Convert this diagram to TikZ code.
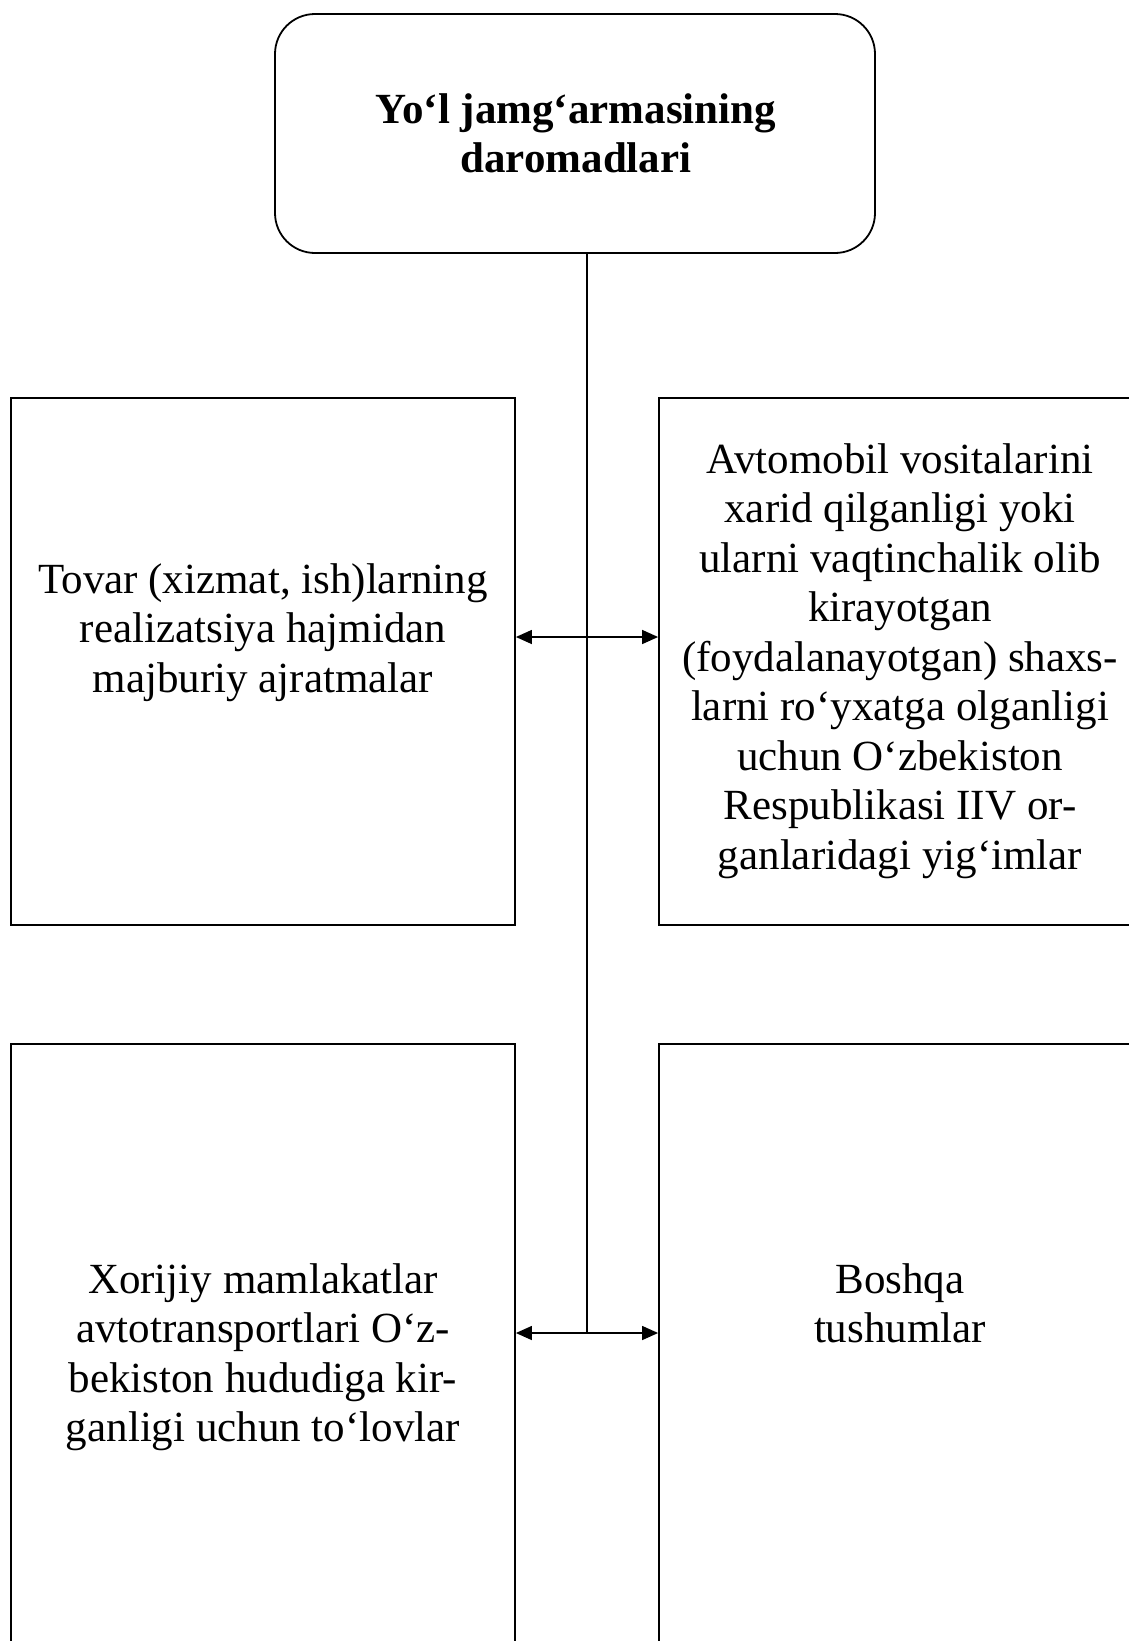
\documentclass[tikz,border=0pt]{standalone}
\usepackage{fontspec}
\setmainfont{Liberation Serif}
\usetikzlibrary{arrows.meta,positioning}

\begin{document}
\begin{tikzpicture}[x=1pt, y=-1pt,
    box/.style={draw, line width=1.8pt, inner sep=0pt},
    topbox/.style={box, rounded corners=40pt, minimum width=600pt, minimum height=239pt},
    leftbox/.style={box, minimum width=504pt},
    rightbox/.style={box, minimum width=482pt},
    txt/.style={align=center, inner sep=0pt, anchor=base, font=\fontsize{43}{49.5}\selectfont},
    headtxt/.style={txt, font=\bfseries\fontsize{43}{49.5}\selectfont},
    link/.style={line width=1.4pt},
    arrow/.style={link, {Triangle[length=16pt,width=14pt]}-{Triangle[length=16pt,width=14pt]}}
]
\useasboundingbox (0,0) rectangle (1129,1641);

% top block (labels sit on their last baseline)
\node[topbox] (head) at (575,133.5) {};
\node[headtxt] (headlabel) at (576,172.5) {Yo‘l jamg‘armasining\\daromadlari};

% upper row
\node[leftbox, minimum height=527pt] (tovar) at (263,661.5) {};
\node[txt] (tovarlabel) at (263,692) {Tovar (xizmat, ish)larning\\realizatsiya hajmidan\\majburiy ajratmalar};
\node[rightbox, minimum height=527pt] (avto) at (900,661.5) {};
\node[txt] (avtolabel) at (900,869) {Avtomobil vositalarini\\xarid qilganligi yoki\\ularni vaqtinchalik olib\\kirayotgan\\(foydalanayotgan) shaxs-\\larni ro‘yxatga olganligi\\uchun O‘zbekiston\\Respublikasi IIV or-\\ganlaridagi yig‘imlar};

% lower row
\node[leftbox, minimum height=640pt] (xorij) at (263,1364) {};
\node[txt] (xorijlabel) at (263,1441.5) {Xorijiy mamlakatlar\\avtotransportlari O‘z-\\bekiston hududiga kir-\\ganligi uchun to‘lovlar};
\node[rightbox, minimum height=640pt] (boshqa) at (900,1364) {};
\node[txt] (boshqalabel) at (900,1342.5) {Boshqa\\tushumlar};

\coordinate (hub) at (587,637);
\coordinate (foot) at (587,1333);

\draw[link] (head.south -| hub) -- (foot);
\draw[arrow] (tovar.east |- hub) -- (avto.west |- hub);
\draw[arrow] (xorij.east |- foot) -- (boshqa.west |- foot);
\end{tikzpicture}
\end{document}
